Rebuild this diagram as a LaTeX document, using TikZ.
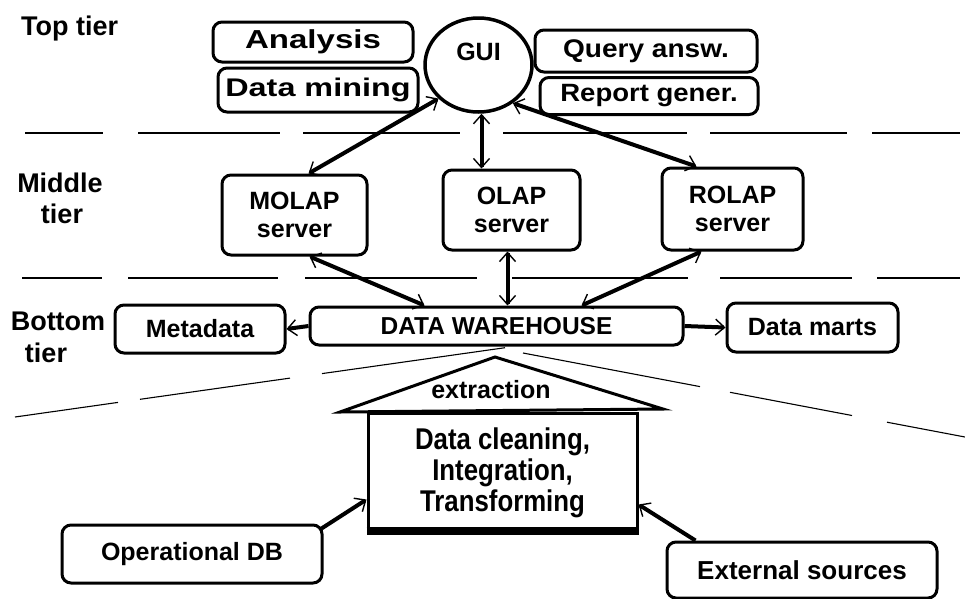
\documentclass[tikz,border=0pt]{standalone}
\usepackage{fontspec}
\setmainfont{Liberation Sans}
\newfontfamily\wideA[FakeStretch=1.27]{Liberation Sans}
\newfontfamily\wideB[FakeStretch=1.1]{Liberation Sans}
\newfontfamily\narrowC[FakeStretch=0.86]{Liberation Sans}
\usetikzlibrary{arrows.meta,shapes.geometric,calc}
\newcommand\fsz[2]{\fontsize{#1}{#2}\selectfont}
\begin{document}
\begin{tikzpicture}[x=1pt,y=-1pt,
  box/.style={draw,line width=3pt,rounded corners=9pt,inner sep=0pt,align=center,font=\bfseries\fsz{25}{28}},
  tiertext/.style={font=\bfseries\fsz{27}{31},anchor=base,inner sep=0pt},
  barb/.tip={Straight Barb[length=9pt,width=16pt,line width=1.4pt]},
  arr/.style={line width=4pt,{barb}-{barb}},
  sarr/.style={line width=4pt,-{barb}},
  sepline/.style={line width=1.1pt},
]
\useasboundingbox[fill=white] (0,0) rectangle (965,598);

% tier separator lines
\draw[sepline] (25,133)--(103,133) (138,133)--(280,133) (303,133)--(460,133)
  (503,133)--(687,133) (710,133)--(847,133) (872,133)--(960,133);
\draw[sepline] (22,278)--(102,278) (128,278)--(278,278) (305,278)--(477,278)
  (512,278)--(688,278) (720,278)--(852,278) (877,278)--(960,278);
\draw[sepline] (15,417)--(118,402.4) (140,399.3)--(290,378.1) (322,373.6)--(505,347.7);
\draw[sepline] (523,353)--(700,386.6) (730,392.3)--(852,415.5) (887,422.2)--(965,437);

% tier labels
\node[tiertext,anchor=base west] (toptier) at (21,35) {Top tier};
\node[tiertext] (midA) at (60,192) {Middle};
\node[tiertext] (midB) at (62,223) {tier};
\node[tiertext] (botA) at (58,330) {Bottom};
\node[tiertext] (botB) at (46,362) {tier};

% top tier
\node[box,minimum width=200pt,minimum height=40pt,font=\wideA\bfseries\fsz{26}{28}] (analysis) at (313,42) {Analysis};
\node[box,minimum width=200pt,minimum height=44pt,font=\wideA\bfseries\fsz{25.5}{28}] (mining) at (318,90) {Data mining};
\node[draw,ellipse,line width=3.5pt,minimum width=107pt,minimum height=94pt,inner sep=0pt,
  label={[font=\bfseries\fsz{25}{26},yshift=13pt]center:GUI}] (gui) at (478.5,65) {};
\node[box,minimum width=222pt,minimum height=42pt,font=\wideB\bfseries\fsz{25.5}{28}] (query) at (646,51) {Query answ.};
\node[box,minimum width=218pt,minimum height=37pt,font=\wideB\bfseries\fsz{25}{28}] (report) at (649,96) {Report gener.};

% middle tier
\node[box,minimum width=145pt,minimum height=80pt] (molap) at (294.5,215) {MOLAP\\server};
\node[box,minimum width=137pt,minimum height=80pt] (olap) at (511.5,210) {OLAP\\server};
\node[box,minimum width=141pt,minimum height=82pt] (rolap) at (732.5,209) {ROLAP\\server};

% bottom tier
\node[box,minimum width=170pt,minimum height=48pt] (metadata) at (200,329) {Metadata};
\node[box,minimum width=373pt,minimum height=38pt,font=\bfseries\fsz{24.5}{28}] (dw) at (496.5,326) {DATA WAREHOUSE};
\node[box,minimum width=171pt,minimum height=49pt] (marts) at (812.5,327.5) {Data marts};

% extraction house
\node[draw,line width=3pt,minimum width=269pt,minimum height=119pt,inner sep=0pt,align=center,
  font=\narrowC\bfseries\fsz{30}{31}] (clean) at (502.5,472.5) {Data cleaning,\\Integration,\\Transforming};
\draw[line width=8pt] ([yshift=3pt]clean.south west) -- ([yshift=3pt]clean.south east);
\draw[line width=3pt,line join=miter] (340,412) -- (495,357) -- (663,409) -- cycle;
\node[font=\bfseries\fsz{25}{28},inner sep=0pt] (extr) at (491,390) {extraction};

% sources
\node[box,minimum width=260pt,minimum height=58pt] (opdb) at (192,554) {Operational DB};
\node[box,minimum width=270pt,minimum height=56pt,font=\bfseries\fsz{26}{28}] (ext) at (802,570) {External sources};

% connectors
\draw[arr] (gui.220) -- ([xshift=14pt]molap.north);
\draw[arr] ([xshift=3pt]gui.south) -- ([xshift=3pt]gui.south |- olap.north);
\draw[arr] (gui.-48) -- ([xshift=-36pt]rolap.north);
\draw[arr] ([xshift=15pt]molap.south) -- ([xshift=-72pt]dw.north);
\draw[arr] ([xshift=-4pt]olap.south) -- ([xshift=-4pt]olap.south |- dw.north);
\draw[arr] ([xshift=-31pt]rolap.south) -- ([xshift=85pt]dw.north);
\draw[sarr] (dw.west) -- (metadata.east);
\draw[sarr] (dw.east) -- (marts.west);
\draw[sarr] ([xshift=-2pt,yshift=-5pt]opdb.north east) -- ([yshift=34pt]clean.south west);
\draw[sarr] ([xshift=30pt]ext.north west) -- ([yshift=29pt]clean.south east);
\end{tikzpicture}
\end{document}
